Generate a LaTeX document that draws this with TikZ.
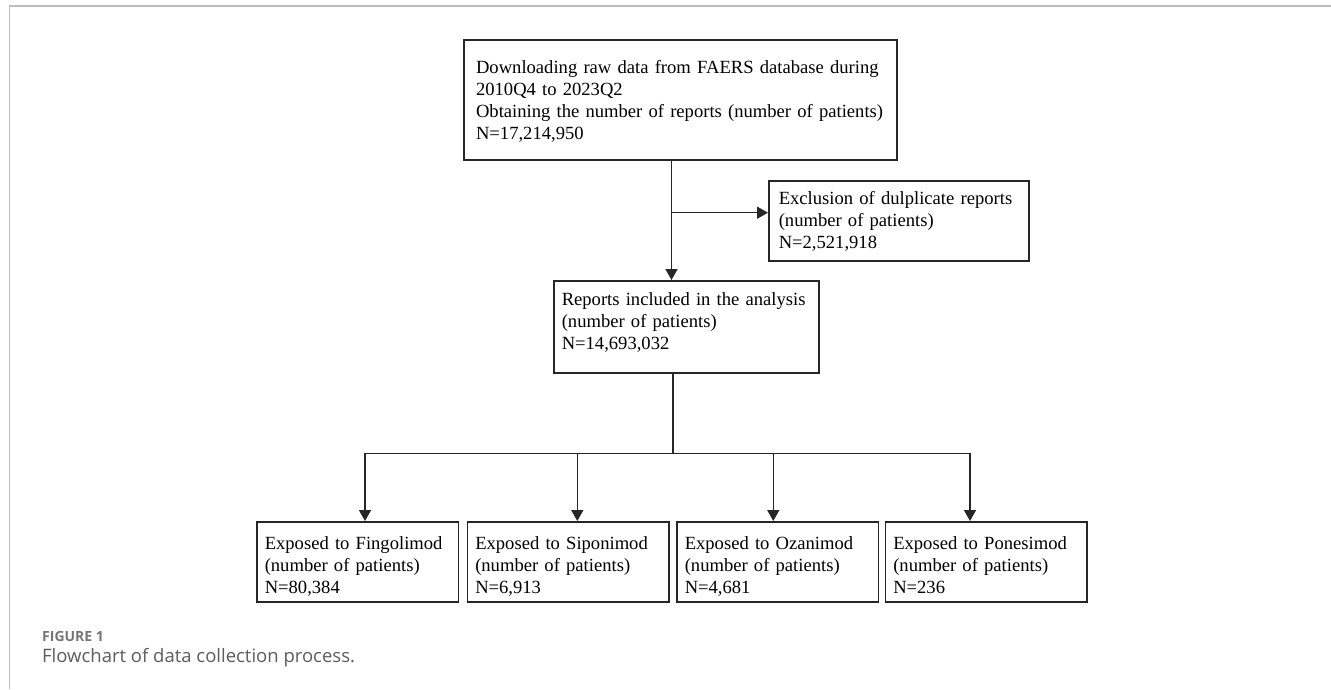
\documentclass[tikz,border=0pt]{standalone}
\usepackage{fontspec}
\setmainfont{Liberation Serif}
\newfontfamily\capfont{Open Sans}
\usepackage{tikz}
\usetikzlibrary{positioning,arrows.meta}
\usepackage{xcolor}
\definecolor{framegray}{HTML}{BDBDBD}
\definecolor{capgray}{HTML}{5C5C5C}
\definecolor{linegray}{HTML}{262626}

\begin{document}
\begin{tikzpicture}[x=1pt,y=-1pt,>={Triangle[length=11pt,width=12pt]},
  box/.style={draw=linegray,line width=1.5pt,anchor=north west,align=left,inner ysep=0pt,inner xsep=8pt,font=\fontsize{18.6}{22}\selectfont},
  expbox/.style={box,text width=185.5pt,text height=28pt,text depth=52.3pt},
  link/.style={draw=linegray,line width=1.5pt}]
\useasboundingbox (0,0) rectangle (1331,689);
\draw[framegray,line width=1.3pt] (9.5,689) -- (9.5,6) -- (1331,6);
\node (s0) [box,inner xsep=12pt,text width=408.7pt,text height=33.5pt,text depth=86.5pt] at (463.3,39.3) {Downloading raw data from FAERS database during\\2010Q4 to 2023Q2\\Obtaining the number of reports (number of patients)\\N=17,214,950};
\node (s1) [box,inner xsep=10pt,text width=240pt,text height=23.3pt,text depth=56.7pt] at (768,180) {Exclusion of dulplicate reports\\(number of patients)\\N=2,521,918};
\node (s2) [box,text width=249pt,text height=25pt,text depth=67pt] at (553,280) {Reports included in the analysis\\(number of patients)\\N=14,693,032};
\node (e1) [expbox] at (256,521) {Exposed to Fingolimod\\(number of patients)\\N=80,384};
\node (e2) [expbox] at (466.5,521) {Exposed to Siponimod\\(number of patients)\\N=6,913};
\node (e3) [expbox] at (676,521) {Exposed to Ozanimod\\(number of patients)\\N=4,681};
\node (e4) [expbox] at (884.5,521) {Exposed to Ponesimod\\(number of patients)\\N=236};
\coordinate (split) at (671.5,212.7);
\coordinate (bar) at (673,453.3);
\coordinate (j1) at (365,453.3);
\coordinate (j2) at (577.3,453.3);
\coordinate (j3) at (773.3,453.3);
\coordinate (j4) at (970,453.3);
\draw[link,->] (s0.south -| split) -- (s2.north -| split);
\draw[link,->] (split) -- (s1.west |- split);
\draw[link] (s2.south -| bar) -- (bar);
\draw[link,<->] (e1.north -| j1) -- (j1) -- (j4) -- (e4.north -| j4);
\draw[link,->] (j2) -- (e2.north -| j2);
\draw[link,->] (j3) -- (e3.north -| j3);
\node (fig) [anchor=base west,text=capgray!85,font=\capfont\bfseries\fontsize{14}{16}\selectfont,inner sep=0pt] at (42,641.7) {FIGURE 1};
\node (cap) [anchor=base west,text=capgray,font=\capfont\fontsize{18.5}{22}\selectfont,inner sep=0pt] at (42,662) {Flowchart of data collection process.};
\end{tikzpicture}
\end{document}
